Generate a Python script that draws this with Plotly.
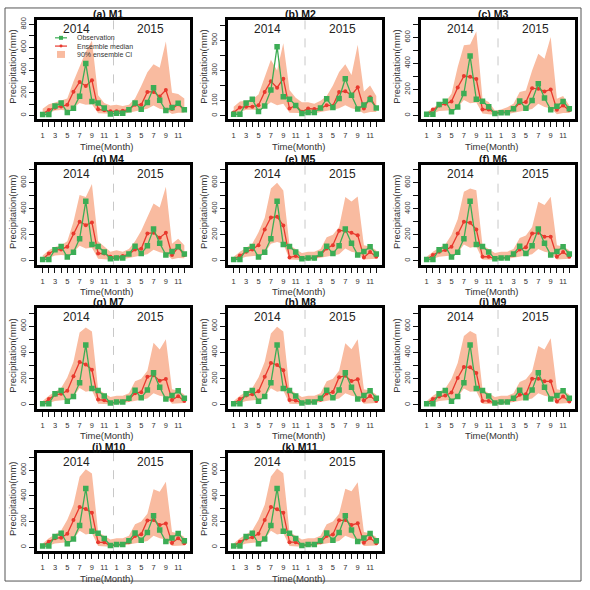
import plotly.graph_objects as go

W = H = 590
FONT = "Liberation Sans, Arial, sans-serif"

months = list(range(1, 25))
tick_text = [str((i - 1) % 12 + 1) if ((i - 1) % 12 + 1) % 2 == 1 else "" for i in months]
panel_titles = ["(a) M1", "(b) M2", "(c) M3", "(d) M4", "(e) M5", "(f) M6",
                "(g) M7", "(h) M8", "(i) M9", "(j) M10", "(k) M11"]
year_labels = ["2014", "2015"]

observation = [10, 10, 85, 110, 28, 65, 170, 457, 125, 110, 68, 15,
               22, 22, 52, 112, 55, 115, 245, 135, 45, 72, 108, 52]

median_M1 = [15, 50, 70, 80, 95, 210, 295, 260, 310, 55, 48, 38, 38, 42, 55, 95, 95, 208, 208, 168, 225, 58, 100, 50]
median_M2 = [22, 55, 60, 60, 70, 158, 228, 186, 245, 48, 70, 26, 48, 44, 48, 70, 66, 158, 162, 136, 188, 48, 122, 52]
median_M3 = [8, 46, 77, 90, 108, 215, 303, 297, 280, 46, 46, 20, 26, 26, 46, 97, 103, 210, 205, 185, 200, 44, 77, 41]
median_M4 = [10, 56, 82, 87, 108, 210, 300, 274, 295, 56, 56, 31, 26, 36, 51, 87, 92, 210, 215, 177, 215, 44, 103, 44]
median_M5 = [10, 41, 69, 87, 120, 241, 333, 338, 272, 26, 36, 18, 18, 18, 44, 95, 120, 231, 231, 215, 197, 26, 67, 31]
median_M6 = [10, 44, 69, 82, 108, 210, 300, 292, 241, 31, 31, 15, 20, 26, 44, 87, 103, 210, 215, 185, 185, 31, 67, 31]
median_M7 = [10, 46, 77, 85, 108, 218, 328, 308, 269, 41, 36, 15, 20, 26, 41, 90, 97, 215, 226, 185, 197, 38, 67, 31]
median_M8 = [10, 45, 72, 82, 105, 215, 320, 305, 265, 38, 35, 15, 20, 25, 40, 88, 98, 212, 222, 182, 195, 35, 68, 30]
median_M9 = [10, 46, 64, 72, 95, 205, 290, 287, 244, 31, 31, 13, 18, 26, 41, 77, 82, 200, 200, 180, 180, 26, 64, 26]
median_M10 = [10, 44, 70, 75, 106, 212, 313, 297, 269, 39, 39, 13, 18, 23, 39, 88, 101, 209, 212, 173, 186, 34, 70, 31]
median_M11 = [10, 44, 68, 78, 106, 212, 314, 296, 268, 40, 40, 13, 18, 23, 39, 88, 100, 210, 212, 174, 187, 36, 72, 32]

upper_M1 = [60, 100, 115, 130, 150, 300, 430, 560, 660, 180, 110, 90, 95, 85, 95, 150, 260, 380, 450, 420, 650, 200, 190, 150]
upper_M2 = [60, 95, 100, 110, 140, 260, 370, 300, 480, 170, 120, 90, 90, 80, 100, 130, 200, 290, 340, 270, 470, 160, 200, 130]
upper_M3 = [25, 56, 90, 103, 167, 372, 540, 545, 646, 128, 103, 38, 46, 64, 90, 180, 192, 346, 474, 436, 603, 128, 149, 77]
upper_M4 = [40, 80, 105, 120, 150, 300, 505, 490, 590, 150, 110, 70, 80, 70, 90, 150, 230, 330, 440, 410, 570, 130, 170, 120]
upper_M5 = [30, 70, 100, 130, 220, 330, 555, 600, 540, 120, 90, 60, 70, 70, 90, 180, 200, 260, 490, 455, 495, 120, 110, 80]
upper_M6 = [30, 70, 100, 125, 200, 320, 530, 556, 543, 120, 90, 60, 70, 70, 90, 175, 195, 260, 454, 428, 492, 120, 110, 80]
upper_M7 = [30, 70, 100, 130, 210, 330, 551, 590, 559, 120, 90, 60, 70, 70, 90, 180, 200, 260, 474, 423, 500, 120, 110, 80]
upper_M8 = [30, 70, 100, 130, 210, 330, 545, 595, 560, 120, 90, 60, 70, 70, 90, 180, 200, 260, 470, 425, 500, 120, 110, 80]
upper_M9 = [30, 70, 100, 125, 200, 320, 526, 564, 538, 120, 90, 60, 70, 70, 90, 175, 195, 255, 449, 423, 508, 120, 110, 80]
upper_M10 = [30, 70, 100, 130, 215, 330, 548, 607, 574, 120, 90, 60, 70, 70, 90, 180, 200, 260, 452, 431, 509, 120, 110, 80]
upper_M11 = [30, 70, 100, 130, 215, 330, 550, 613, 575, 120, 90, 60, 70, 70, 90, 180, 200, 260, 455, 435, 506, 120, 110, 80]

lower_M1 = [0, 25, 45, 50, 45, 70, 110, 95, 100, 20, 15, 15, 15, 15, 25, 40, 50, 60, 90, 60, 50, 15, 25, 25]
lower_M2 = [5, 25, 40, 40, 40, 60, 90, 70, 80, 20, 20, 15, 15, 15, 25, 35, 40, 50, 70, 50, 40, 15, 25, 25]
lower_M3 = [0, 15, 35, 40, 40, 65, 120, 95, 100, 15, 10, 5, 8, 10, 20, 30, 40, 50, 90, 65, 55, 10, 20, 20]
lower_M4 = [0, 20, 40, 45, 40, 65, 115, 95, 100, 15, 12, 8, 10, 12, 20, 30, 40, 50, 85, 65, 55, 12, 22, 20]
lower_M5 = [0, 15, 30, 35, 40, 60, 130, 145, 130, 10, 10, 5, 5, 10, 20, 30, 40, 50, 95, 70, 60, 10, 15, 15]
lower_M6 = [0, 15, 30, 35, 40, 60, 125, 100, 110, 10, 10, 5, 5, 10, 20, 30, 40, 50, 90, 70, 60, 10, 15, 15]
lower_M7 = [0, 15, 30, 35, 40, 60, 130, 100, 110, 10, 10, 5, 5, 10, 20, 30, 40, 50, 90, 70, 60, 10, 15, 15]
lower_M8 = [0, 15, 30, 35, 40, 60, 128, 100, 110, 10, 10, 5, 5, 10, 20, 30, 40, 50, 90, 70, 60, 10, 15, 15]
lower_M9 = [0, 15, 30, 35, 40, 60, 125, 100, 105, 10, 10, 5, 5, 10, 20, 30, 40, 50, 90, 70, 60, 10, 15, 15]
lower_M10 = [0, 15, 30, 35, 40, 60, 128, 100, 110, 10, 10, 5, 5, 10, 20, 30, 40, 50, 90, 70, 60, 10, 15, 15]
lower_M11 = [0, 15, 30, 35, 40, 60, 128, 100, 110, 10, 10, 5, 5, 10, 20, 30, 40, 50, 90, 70, 60, 10, 15, 15]

medians = [median_M1, median_M2, median_M3, median_M4, median_M5, median_M6,
           median_M7, median_M8, median_M9, median_M10, median_M11]
uppers = [upper_M1, upper_M2, upper_M3, upper_M4, upper_M5, upper_M6,
          upper_M7, upper_M8, upper_M9, upper_M10, upper_M11]
lowers = [lower_M1, lower_M2, lower_M3, lower_M4, lower_M5, lower_M6,
          lower_M7, lower_M8, lower_M9, lower_M10, lower_M11]

# layout (pixels)
col_x = [(37, 190), (228, 382), (421, 575)]
row_y = [(17, 117), (163, 263), (307, 408), (452, 551)]

GREEN = "#3cad55"
RED = "#e8392e"
SALMON = "#f9bba0"

fig = go.Figure()
layout = dict(width=W, height=H, margin=dict(l=0, r=0, t=0, b=0),
              paper_bgcolor="white", plot_bgcolor="white", showlegend=False,
              font=dict(family=FONT, color="#333"))
annotations = []
shapes = []

def px(x):
    return x / W

def py(y):
    return 1 - y / H

for k in range(11):
    r, c = divmod(k, 3)
    x0, x1 = col_x[c]
    y0, y1 = row_y[r]
    xa = "x" if k == 0 else f"x{k+1}"
    ya = "y" if k == 0 else f"y{k+1}"
    xkey = "xaxis" if k == 0 else f"xaxis{k+1}"
    ykey = "yaxis" if k == 0 else f"yaxis{k+1}"

    if k == 0:
        yr = [-33, 840]
        yt = list(range(0, 900, 100))
        ytt = [str(v) if v % 200 == 0 else "" for v in yt]
    elif k == 1:
        yr = [-24, 634]
        yt = list(range(0, 700, 100))
        ytt = ["0", "100", "", "300", "", "500", ""]
    else:
        yr = [-30, 735]
        yt = list(range(0, 800, 100))
        ytt = [str(v) if v % 200 == 0 else "" for v in yt]

    layout[xkey] = dict(domain=[px(x0), px(x1)], anchor=ya, range=[0.08, 24.92],
                        tickmode="array", tickvals=months, ticktext=tick_text,
                        ticks="outside", ticklen=5, tickwidth=1, tickcolor="#111",
                        showline=True, linewidth=3, linecolor="black", mirror=True,
                        showgrid=False, zeroline=False, ticklabelstandoff=2,
                        tickfont=dict(size=7.5, color="#333", family=FONT), tickangle=0)
    layout[ykey] = dict(domain=[py(y1), py(y0)], anchor=xa, range=yr,
                        tickmode="array", tickvals=yt, ticktext=ytt,
                        ticks="outside", ticklen=5, tickwidth=1, tickcolor="#111",
                        showline=True, linewidth=3, linecolor="black", mirror=True,
                        showgrid=False, zeroline=False, tickangle=-90,
                        tickfont=dict(size=7.5, color="#333", family=FONT))

    # CI band
    fig.add_trace(go.Scatter(x=months + months[::-1], y=uppers[k] + lowers[k][::-1],
                             fill="toself", fillcolor=SALMON, line=dict(width=0),
                             mode="lines", xaxis=xa, yaxis=ya, hoverinfo="skip"))
    # median
    fig.add_trace(go.Scatter(x=months, y=medians[k], mode="lines+markers",
                             line=dict(color=RED, width=1.3),
                             marker=dict(color=RED, size=4, symbol="circle"),
                             xaxis=xa, yaxis=ya))
    # observation
    fig.add_trace(go.Scatter(x=months, y=observation, mode="lines+markers",
                             line=dict(color=GREEN, width=1.3),
                             marker=dict(color=GREEN, size=5.5, symbol="square"),
                             xaxis=xa, yaxis=ya))

    # dashed separator
    shapes.append(dict(type="line", xref=xa, yref=f"{ya} domain", x0=12.5, x1=12.5,
                       y0=0, y1=1, line=dict(color="#c8c8c8", width=1, dash="dash"),
                       layer="below"))
    cx = (x0 + x1) / 2 - 5
    # panel title
    annotations.append(dict(text=f"<b>{panel_titles[k]}</b>", x=px(cx), y=py(11 + y0 - 17),
                            xref="paper", yref="paper", showarrow=False,
                            font=dict(size=10.5, color="#111", family=FONT),
                            xanchor="center", yanchor="middle"))
    # year labels
    for yi, ylab in enumerate(year_labels):
        annotations.append(dict(text=ylab, x=6.5 + 12 * yi, y=py(y0 + 9),
                                xref=xa, yref="paper", showarrow=False,
                                font=dict(size=12, color="#222", family=FONT),
                                xanchor="center", yanchor="middle"))
    # axis titles
    annotations.append(dict(text="Time(Month)", x=px(cx - 1), y=py(y1 + 27),
                            xref="paper", yref="paper", showarrow=False,
                            font=dict(size=9.5, color="#333", family=FONT),
                            xanchor="center", yanchor="middle"))
    annotations.append(dict(text="Precipitation(mm)", x=px(x0 - 24), y=py((y0 + y1) / 2 - 3),
                            xref="paper", yref="paper", showarrow=False, textangle=-90,
                            font=dict(size=9.5, color="#333", family=FONT),
                            xanchor="center", yanchor="middle"))

# legend in panel (a)
leg_items = ["Observation", "Ensemble median", "90% ensemble CI"]
leg_y = [35, 43.3, 51.7]
lx0, lx1 = 55, 67
for i, (lab, yy) in enumerate(zip(leg_items, leg_y)):
    if i < 2:
        col = GREEN if i == 0 else RED
        shapes.append(dict(type="line", xref="paper", yref="paper", x0=px(lx0), x1=px(lx1),
                           y0=py(yy), y1=py(yy), line=dict(color=col, width=1.2)))
        s = 2 if i == 0 else 1.5
        shapes.append(dict(type="rect" if i == 0 else "circle", xref="paper", yref="paper",
                           x0=px(61 - s), x1=px(61 + s), y0=py(yy - s), y1=py(yy + s),
                           fillcolor=col, line=dict(width=0)))
    else:
        shapes.append(dict(type="rect", xref="paper", yref="paper", x0=px(57), x1=px(65),
                           y0=py(yy - 3.5), y1=py(yy + 3.5), fillcolor=SALMON, line=dict(width=0)))
    annotations.append(dict(text=lab, x=px(75), y=py(yy), xref="paper", yref="paper",
                            showarrow=False, xanchor="left", yanchor="middle",
                            font=dict(size=7, color="#333", family=FONT)))

# outer frame
shapes.append(dict(type="rect", xref="paper", yref="paper", x0=px(5), x1=px(581),
                   y0=py(581), y1=py(5), line=dict(color="#555", width=1)))

layout["annotations"] = annotations
layout["shapes"] = shapes
fig.update_layout(**layout)
fig.write_html("out.html", config={"displayModeBar": False},
               post_script="document.body.style.margin='0';document.body.style.overflow='hidden';")
